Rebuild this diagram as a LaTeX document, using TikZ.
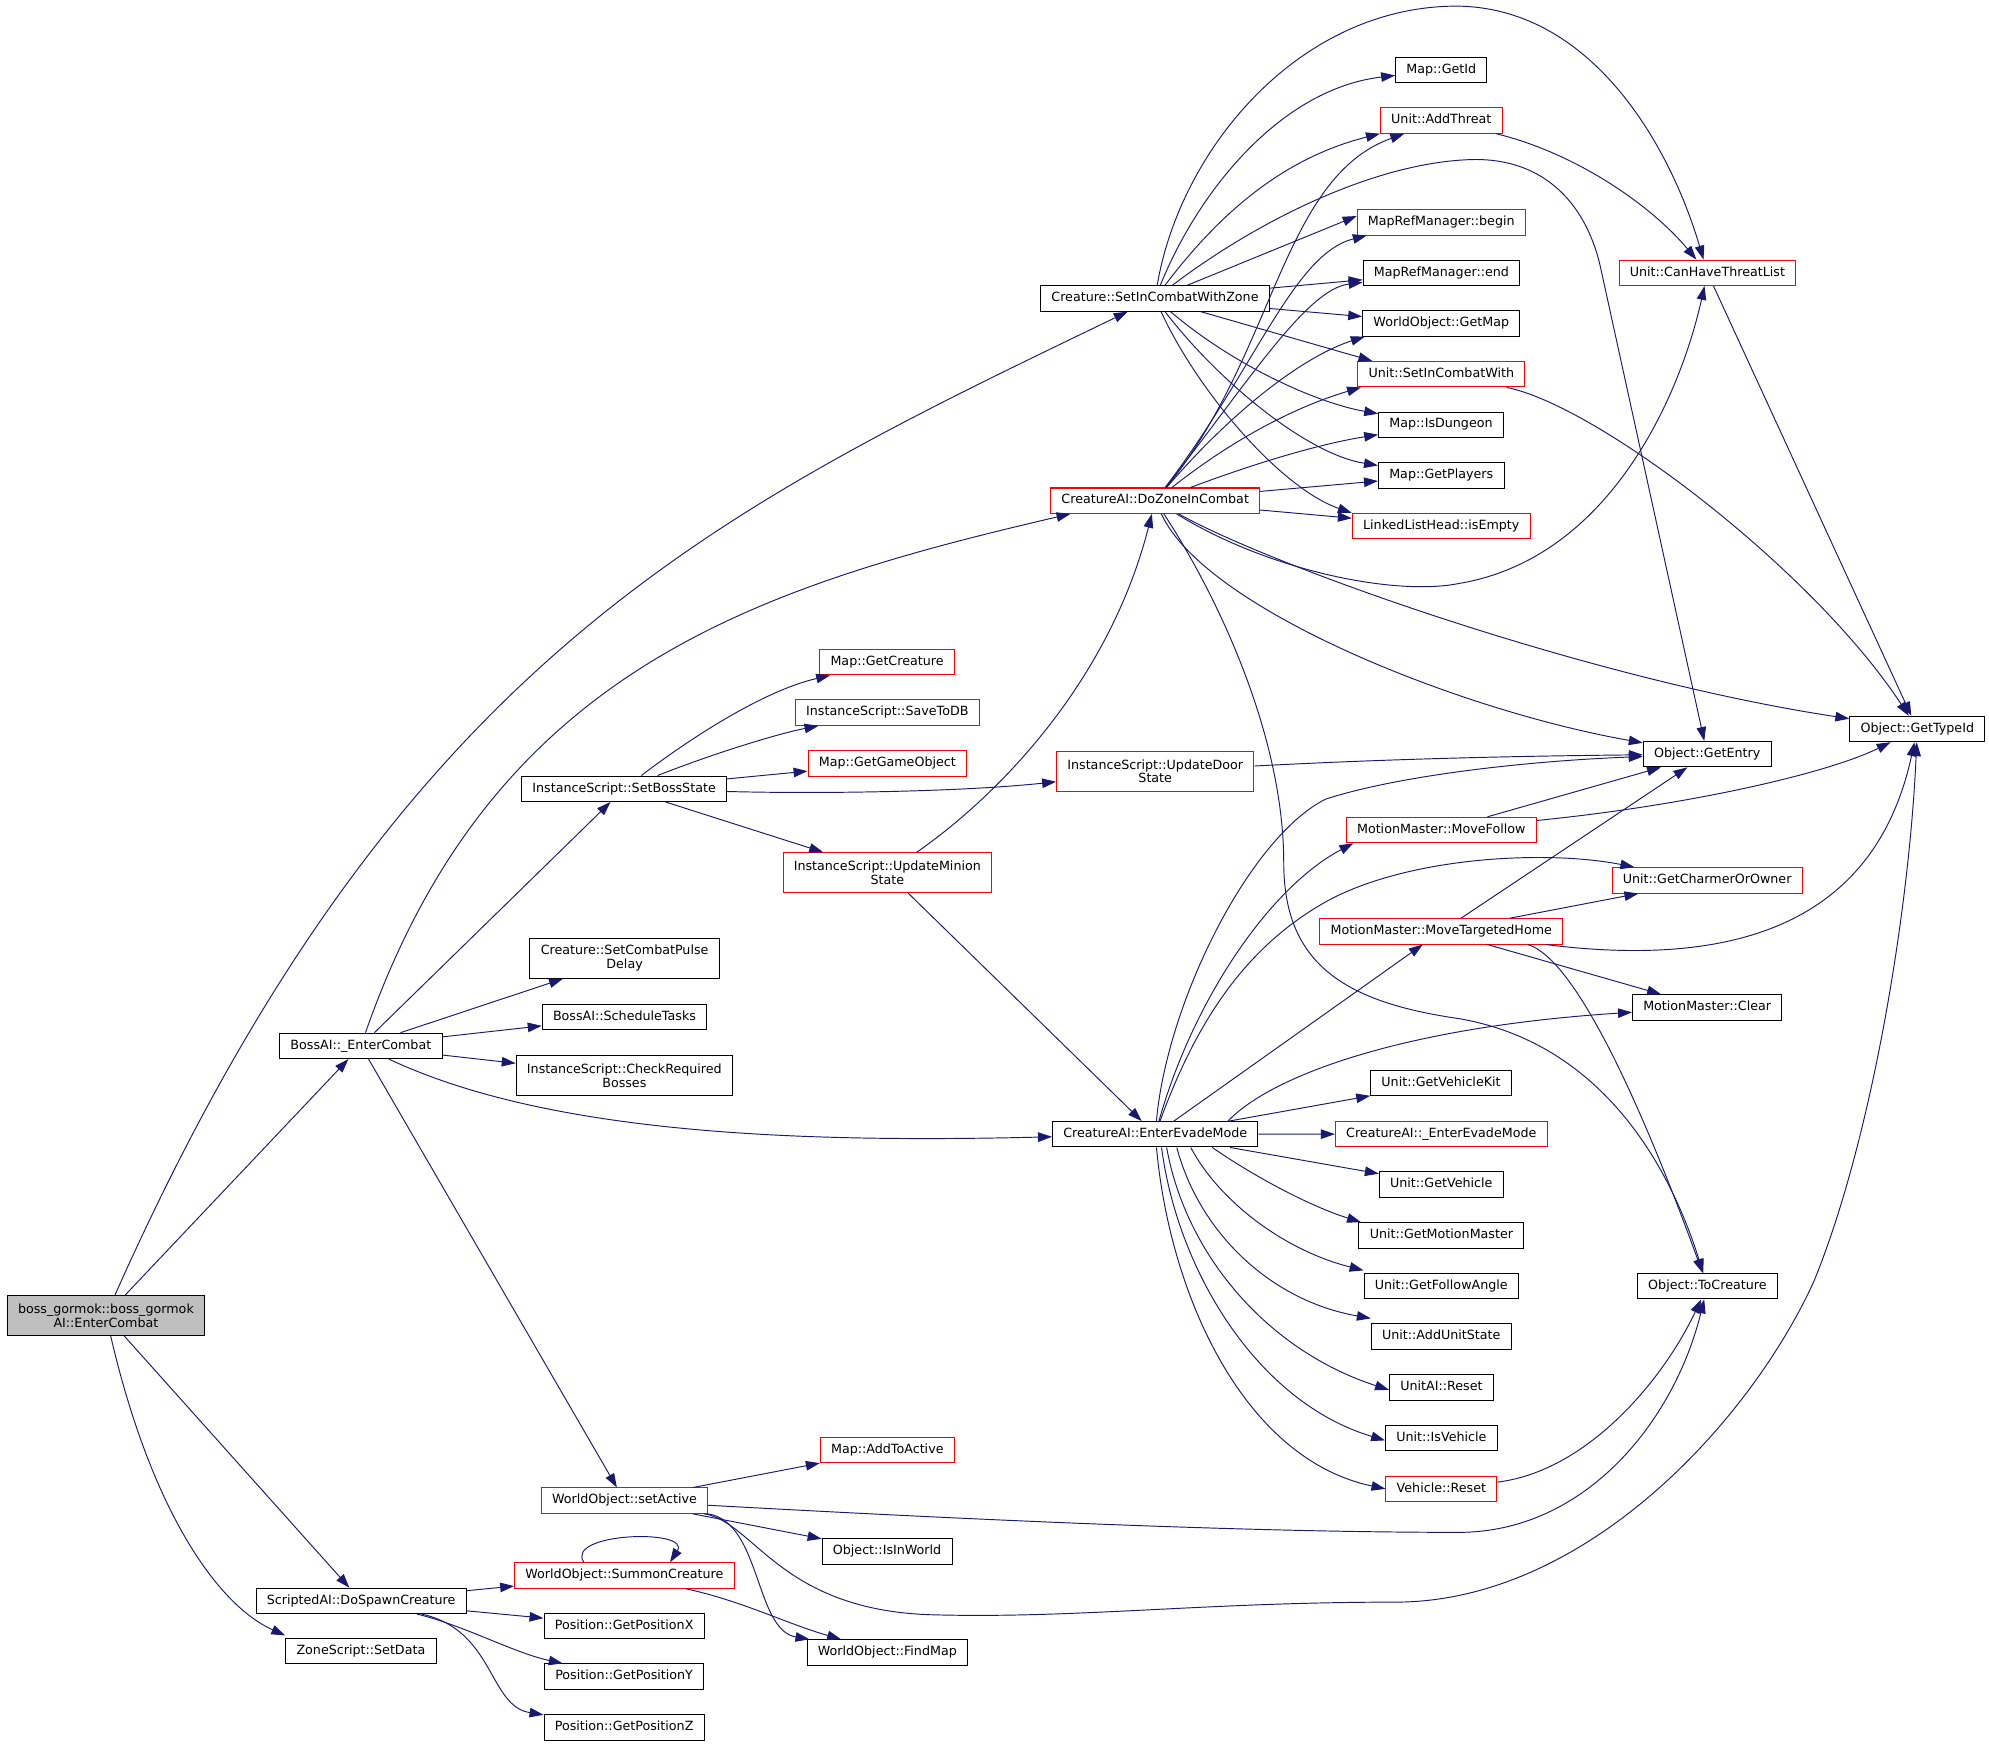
\documentclass[tikz,border=0pt]{standalone}
\usepackage{fontspec}
\setmainfont{DejaVu Sans}
\usetikzlibrary{arrows.meta}
\definecolor{edgeblue}{HTML}{191970}
\definecolor{nodegray}{HTML}{BFBFBF}

\begin{document}
\begin{tikzpicture}[x=1pt,y=1pt,yscale=-1,
  fn/.style={draw=black,line width=0.8pt,fill=white,inner xsep=8.5pt,inner ysep=0pt,minimum height=20pt,text height=7.6pt,text depth=2.4pt,font=\fontsize{10}{11}\selectfont},
  fnred/.style={fn,draw=red},
  fntwo/.style={draw=black,line width=0.8pt,fill=white,inner xsep=8.5pt,inner ysep=0pt,minimum height=31.5pt,align=center,font=\fontsize{10}{11}\selectfont},
  fntwored/.style={fntwo,draw=red},
  call/.style={draw=edgeblue,line width=0.75pt,-{Triangle[length=11pt,width=7.5pt]}}]
%set diagram area 1568 x 1376
\path[use as bounding box,fill=white] (0,0) rectangle (1568,1376);

% Text Node: caller
\node[fntwo,fill=nodegray] (boss) at (83.5,1037) {boss\_gormok::boss\_gormok\\AI::EnterCombat};

% Text Node: column 1
\node[fn] (bossEnter) at (284.5,824.5) {BossAI::\_EnterCombat};
\node[fn] (spawn) at (284.7,1262) {ScriptedAI::DoSpawnCreature};
\node[fn] (setData) at (284.5,1301.7) {ZoneScript::SetData};

% Text Node: column 2
\node[fn] (setBoss) at (492,621.8) {InstanceScript::SetBossState};
\node[fntwo] (pulse) at (492.4,755.4) {Creature::SetCombatPulse\\Delay};
\node[fn] (sched) at (492.3,801.5) {BossAI::ScheduleTasks};
\node[fntwo] (checkReq) at (492.2,847.8) {InstanceScript::CheckRequired\\Bosses};
\node[fnred] (setActive) at (492.3,1183) {WorldObject::setActive};
\node[fnred] (summon) at (492.2,1242) {WorldObject::SummonCreature};
\node[fn] (posX) at (492,1281.6) {Position::GetPositionX};
\node[fn] (posY) at (492,1321.7) {Position::GetPositionY};
\node[fn] (posZ) at (492,1361.7) {Position::GetPositionZ};

% Text Node: column 3
\node[fnred] (getCreature) at (699.3,522) {Map::GetCreature};
\node[fnred] (saveDB) at (699.5,561.8) {InstanceScript::SaveToDB};
\node[fnred] (getGO) at (699.5,601.9) {Map::GetGameObject};
\node[fntwored] (minionState) at (699.5,688) {InstanceScript::UpdateMinion\\State};
\node[fnred] (addActive) at (699.5,1143.2) {Map::AddToActive};
\node[fn] (inWorld) at (699.3,1223) {Object::IsInWorld};
\node[fn] (findMap) at (699.5,1302.7) {WorldObject::FindMap};

% Text Node: column 4
\node[fn] (zoneCombat) at (910.5,235.3) {Creature::SetInCombatWithZone};
\node[fnred] (doZone) at (910.7,394.7) {CreatureAI::DoZoneInCombat};
\node[fntwored] (doorState) at (910.7,608) {InstanceScript::UpdateDoor\\State};
\node[fn] (evade) at (910.7,894.2) {CreatureAI::EnterEvadeMode};

% Text Node: column 5
\node[fn] (getId) at (1136.2,55.2) {Map::GetId};
\node[fnred] (addThreat) at (1136.2,95) {Unit::AddThreat};
\node[fnred] (refBegin) at (1136.2,175.3) {MapRefManager::begin};
\node[fn] (refEnd) at (1136.3,215) {MapRefManager::end};
\node[fn] (getMap) at (1136.2,255) {WorldObject::GetMap};
\node[fnred] (combatWith) at (1136.2,295) {Unit::SetInCombatWith};
\node[fn] (isDungeon) at (1136,334.8) {Map::IsDungeon};
\node[fn] (getPlayers) at (1136.2,374.8) {Map::GetPlayers};
\node[fnred] (isEmpty) at (1136.2,414.8) {LinkedListHead::isEmpty};
\node[fnred] (moveFollow) at (1136.2,654.3) {MotionMaster::MoveFollow};
\node[fnred] (moveHome) at (1136.2,734.2) {MotionMaster::MoveTargetedHome};
\node[fn] (vehicleKit) at (1136,853.9) {Unit::GetVehicleKit};
\node[fnred] (evadeBase) at (1136.2,894) {CreatureAI::\_EnterEvadeMode};
\node[fn] (getVehicle) at (1136.2,933.9) {Unit::GetVehicle};
\node[fn] (motionMaster) at (1136.3,973.9) {Unit::GetMotionMaster};
\node[fn] (followAngle) at (1136.2,1013.9) {Unit::GetFollowAngle};
\node[fn] (unitState) at (1136.2,1053.7) {Unit::AddUnitState};
\node[fn] (aiReset) at (1136.3,1093.7) {UnitAI::Reset};
\node[fn] (isVehicle) at (1136.3,1133.5) {Unit::IsVehicle};
\node[fnred] (vehReset) at (1136.3,1173.7) {Vehicle::Reset};

% Text Node: column 6
\node[fnred] (canThreat) at (1346,215) {Unit::CanHaveThreatList};
\node[fn] (getEntry) at (1345.8,594.5) {Object::GetEntry};
\node[fnred] (charmer) at (1345.8,694) {Unit::GetCharmerOrOwner};
\node[fn] (mmClear) at (1345.8,794.2) {MotionMaster::Clear};
\node[fn] (toCreature) at (1346,1013.9) {Object::ToCreature};

% Text Node: column 7
\node[fn] (getTypeId) at (1511.5,574.7) {Object::GetTypeId};

%Lines from caller
\draw[call] (boss) .. controls (314,519) and (563,403) .. (zoneCombat);
\draw[call] (boss) -- (bossEnter);
\draw[call] (boss) -- (spawn);
\draw[call] (boss) .. controls (119,1190) and (171,1265) .. ([yshift=-2pt]setData.north west);

%Lines from BossAI::_EnterCombat
\draw[call] (bossEnter) .. controls (387,531) and (590,464) .. ([xshift=16pt]doZone.south west);
\draw[call] (bossEnter) -- (setBoss);
\draw[call] (bossEnter) -- (pulse);
\draw[call] (bossEnter) -- (sched);
\draw[call] (bossEnter) -- (checkReq);
\draw[call] (bossEnter) .. controls (432,894) and (629,901) .. (evade);
\draw[call] (bossEnter) -- (setActive);

%Lines from ScriptedAI::DoSpawnCreature
\draw[call] (spawn) -- (summon);
\draw[call] (spawn) -- (posX);
\draw[call] (spawn) .. controls (365,1281) and (405,1303) .. (posY);
\draw[call] (spawn) .. controls (390,1285) and (385,1345) .. (posZ);

%Lines from WorldObject::SummonCreature
\draw[call] ([xshift=-32pt]summon.north) .. controls (445,1208) and (545,1205) .. ([xshift=36pt]summon.north);
\draw[call] (summon) .. controls (585,1262) and (620,1280) .. (findMap);

%Lines from WorldObject::setActive
\draw[call] (setActive) -- (addActive);
\draw[call] (setActive) -- (inWorld);
\draw[call] (setActive) .. controls (600,1200) and (595,1285) .. (findMap);
\draw[call] (setActive) .. controls (800,1200) and (1000,1208) .. (1150,1208) .. controls (1250,1208) and (1320,1120) .. (toCreature);
\draw[call] (setActive) .. controls (595,1200) and (615,1270) .. (736,1273) .. controls (850,1276) and (950,1263) .. (1100,1263) .. controls (1250,1263) and (1380,1120) .. (1430,1010) .. controls (1475,900) and (1505,720) .. (getTypeId);

%Lines from InstanceScript::SetBossState
\draw[call] (setBoss) .. controls (540,585) and (600,545) .. (getCreature);
\draw[call] (setBoss) .. controls (565,593) and (615,578) .. (saveDB);
\draw[call] (setBoss) -- (getGO);
\draw[call] (setBoss) .. controls (650,626) and (760,624) .. (doorState);
\draw[call] (setBoss) -- (minionState);

%Lines from the Update nodes
\draw[call] (minionState) .. controls (790,625) and (875,535) .. (doZone);
\draw[call] (minionState) -- (evade);
\draw[call] (doorState) .. controls (1100,598) and (1200,596) .. (getEntry);

%Lines from Creature::SetInCombatWithZone
\draw[call] (zoneCombat) .. controls (930,120) and (1020,10) .. (1140,5) .. controls (1250,0) and (1315,110) .. (canThreat);
\draw[call] (zoneCombat) .. controls (945,150) and (1010,70) .. (getId);
\draw[call] (zoneCombat) .. controls (960,170) and (1010,125) .. (addThreat.south west);
\draw[call] (zoneCombat) .. controls (990,175) and (1080,130) .. (1155,126) .. controls (1220,122) and (1252,165) .. (1262,212) -- (getEntry);
\draw[call] (zoneCombat) -- ([yshift=-5pt]refBegin.west);
\draw[call] (zoneCombat) -- (refEnd);
\draw[call] (zoneCombat) -- (getMap);
\draw[call] (zoneCombat) -- ([xshift=12pt]combatWith.north west);
\draw[call] (zoneCombat) .. controls (975,290) and (1040,318) .. (isDungeon);
\draw[call] (zoneCombat) .. controls (960,300) and (1030,358) .. (getPlayers);
\draw[call] (zoneCombat) .. controls (945,310) and (1010,385) .. (isEmpty.north west);

%Lines from CreatureAI::DoZoneInCombat
\draw[call] (doZone) .. controls (1005,280) and (1010,140) .. (addThreat);
\draw[call] (doZone) .. controls (990,290) and (1020,200) .. ([xshift=8pt]refBegin.south west);
\draw[call] (doZone) .. controls (985,300) and (1030,228) .. (refEnd);
\draw[call] (doZone) .. controls (975,320) and (1030,280) .. ([xshift=2pt]getMap.south west);
\draw[call] (doZone) .. controls (980,340) and (1030,318) .. ([xshift=3pt]combatWith.south west);
\draw[call] (doZone) .. controls (990,365) and (1040,350) .. (isDungeon);
\draw[call] (doZone) -- (getPlayers);
\draw[call] (doZone) -- (isEmpty);
\draw[call] (doZone) .. controls (1000,450) and (1100,470) .. (1150,460) .. controls (1270,440) and (1325,310) .. (canThreat);
\draw[call] (doZone) .. controls (950,480) and (1150,560) .. (getEntry);
\draw[call] (doZone) .. controls (1000,445) and (1250,535) .. (getTypeId);
\draw[call] (doZone) .. controls (960,470) and (1012,580) .. (1012,680) .. controls (1012,760) and (1060,790) .. (1150,803) .. controls (1250,820) and (1310,900) .. (toCreature);

%Lines between the callees
\draw[call] (addThreat) .. controls (1240,120) and (1300,160) .. (canThreat);
\draw[call] (combatWith) .. controls (1260,320) and (1430,450) .. (getTypeId);
\draw[call] (canThreat) -- (getTypeId);

%Lines from CreatureAI::EnterEvadeMode
\draw[call] (evade) .. controls (920,790) and (985,660) .. (1045,630) .. controls (1100,612) and (1200,600) .. (getEntry);
\draw[call] (evade) .. controls (940,790) and (1000,700) .. ([xshift=6pt]moveFollow.south west);
\draw[call] (evade) .. controls (945,800) and (985,745) .. (1045,711) .. controls (1110,675) and (1220,670) .. ([xshift=18pt]charmer.north west);
\draw[call] (evade) -- (moveHome);
\draw[call] ([xshift=-24pt]evade.north east) .. controls (1000,850) and (1100,810) .. (mmClear);
\draw[call] (evade) -- (vehicleKit);
\draw[call] (evade) -- (evadeBase);
\draw[call] (evade) -- (getVehicle);
\draw[call] ([xshift=45pt]evade.south) .. controls (985,925) and (1030,950) .. ([xshift=2pt]motionMaster.north west);
\draw[call] ([xshift=28pt]evade.south) .. controls (960,945) and (1010,985) .. ([yshift=-2pt]followAngle.north west);
\draw[call] ([xshift=17pt]evade.south) .. controls (945,970) and (1000,1025) .. ([yshift=-4pt]unitState.north west);
\draw[call] ([xshift=9pt]evade.south) .. controls (935,990) and (1000,1065) .. ([yshift=2pt]aiReset.west);
\draw[call] ([xshift=5pt]evade.south) .. controls (928,1000) and (990,1105) .. ([yshift=2pt]isVehicle.west);
\draw[call] ([xshift=1pt]evade.south) .. controls (922,1020) and (980,1150) .. (vehReset.west);

%Lines from MotionMaster nodes
\draw[call] (moveFollow) -- (getEntry);
\draw[call] (moveFollow) .. controls (1330,635) and (1440,610) .. (getTypeId);
\draw[call] (moveHome) -- (getEntry);
\draw[call] (moveHome) -- (charmer);
\draw[call] (moveHome) .. controls (1380,765) and (1480,720) .. (getTypeId);
\draw[call] (moveHome) -- (mmClear);
\draw[call] ([xshift=-28pt]moveHome.south east) .. controls (1240,755) and (1290,860) .. (toCreature);
\draw[call] (vehReset) .. controls (1250,1160) and (1310,1090) .. (toCreature);

\end{tikzpicture}
\end{document}
